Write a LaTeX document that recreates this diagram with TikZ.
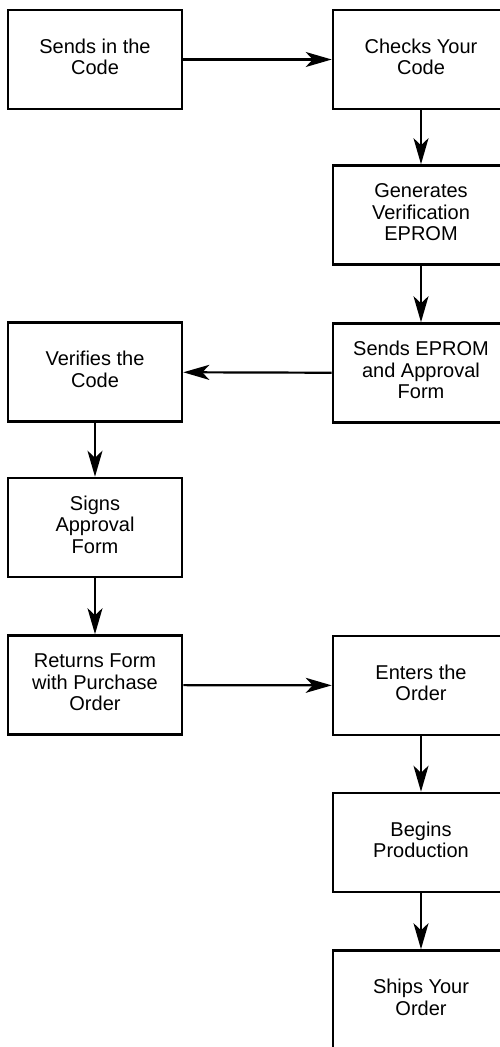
\documentclass[tikz,border=0pt]{standalone}
\usepackage{fontspec}
\setmainfont{Liberation Sans}
\usetikzlibrary{arrows.meta}
% centred lines of a step, set slightly above the middle of its box
\newcommand{\boxtext}[1]{\raisebox{3pt}{\begin{tabular}{@{}c@{}}#1\end{tabular}}}
\tikzset{
  stepbox/.style={draw, line width=2.6pt, minimum width=174pt, minimum height=99pt,
    inner sep=0pt, font=\fontsize{20}{21.5}\selectfont},
  flow/.style={line width=2.2pt, -{Stealth[length=26pt, width=15pt, inset=7pt]}}
}
\begin{document}
\begin{tikzpicture}[x=1pt, y=-1pt]
  \useasboundingbox (0,0) rectangle (500,1047);
  \clip (0,0) rectangle (500,1047);

  % left column (customer)
  \node[stepbox] (sends)   at (95,59.5)  {\boxtext{Sends in the\\Code}};
  \node[stepbox] (verify)  at (95,372)   {\boxtext{Verifies the\\Code}};
  \node[stepbox] (signs)   at (95,527.5) {\boxtext{Signs\\Approval\\Form}};
  \node[stepbox] (returns) at (95,685)   {\boxtext{Returns Form\\with Purchase\\Order}};

  % right column (manufacturer)
  \node[stepbox, minimum width=176pt] (checks)  at (421,59.5)  {\boxtext{Checks Your\\Code}};
  \node[stepbox, minimum width=176pt] (gen)     at (421,215)   {\boxtext{Generates\\Verification\\EPROM}};
  \node[stepbox, minimum width=176pt] (sendep)  at (421,373)   {\boxtext{Sends EPROM\\and Approval\\Form}};
  \node[stepbox, minimum width=176pt] (enters)  at (421,685.5) {\boxtext{Enters the\\Order}};
  \node[stepbox, minimum width=176pt] (begins)  at (421,842.5) {\boxtext{Begins\\Production}};
  \node[stepbox, minimum width=176pt] (ships)   at (421,1000)  {\boxtext{Ships Your\\Order}};

  % connectors
  \draw[flow] (sends) -- (checks);
  \draw[flow] (checks) -- (gen);
  \draw[flow] (gen) -- (sendep);
  \draw[flow] (sendep) -- (verify);
  \draw[flow] (verify) -- (signs);
  \draw[flow] (signs) -- (returns);
  \draw[flow] (returns) -- (enters);
  \draw[flow] (enters) -- (begins);
  \draw[flow] (begins) -- (ships);
\end{tikzpicture}
\end{document}
